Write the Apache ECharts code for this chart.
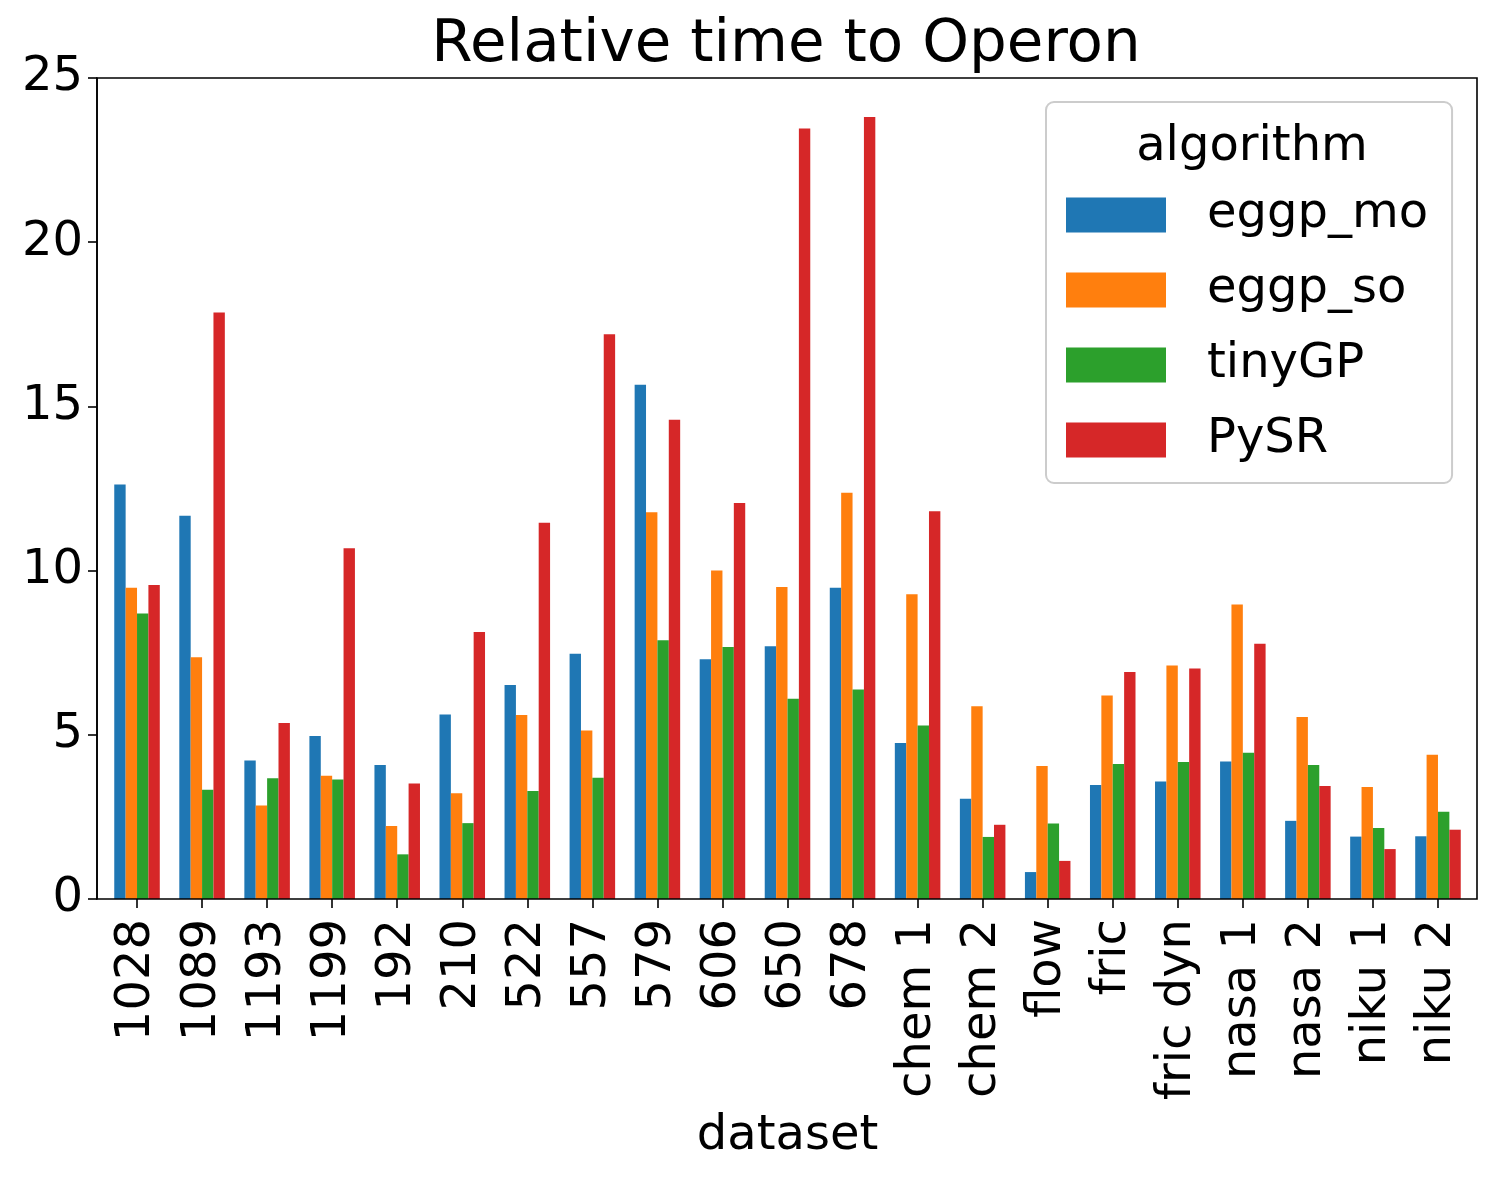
<!DOCTYPE html>
<html>
<head>
<meta charset="utf-8">
<title>Relative time to Operon</title>
<script src="https://cdn.jsdelivr.net/npm/echarts@6/dist/echarts.min.js"></script>
<style>
  html, body { margin: 0; padding: 0; background: #fff; }
  #chart { width: 1494px; height: 1179px; }
</style>
</head>
<body>
<div id="chart"></div>
<script>
// datasets on the x axis
const datasets = ['1028', '1089', '1193', '1199', '192', '210', '522', '557', '579', '606', '650', '678',
    'chem 1', 'chem 2', 'flow', 'fric', 'fric dyn', 'nasa 1', 'nasa 2', 'niku 1', 'niku 2'];

// relative time per algorithm
const eggpMo  = [12.62, 11.67, 4.22, 4.96, 4.08, 5.62, 6.52, 7.47, 15.66, 7.30, 7.70, 9.48,
    4.75, 3.05, 0.82, 3.47, 3.58, 4.19, 2.38, 1.90, 1.91];
const eggpSo  = [9.48, 7.36, 2.85, 3.75, 2.22, 3.22, 5.60, 5.13, 11.78, 10.00, 9.50, 12.37,
    9.28, 5.87, 4.05, 6.20, 7.11, 8.97, 5.54, 3.41, 4.39];
const tinyGP  = [8.69, 3.33, 3.68, 3.64, 1.36, 2.31, 3.29, 3.69, 7.88, 7.67, 6.10, 6.38,
    5.28, 1.89, 2.30, 4.11, 4.17, 4.45, 4.08, 2.16, 2.66];
const pySR    = [9.56, 17.86, 5.36, 10.68, 3.52, 8.13, 11.46, 17.20, 14.59, 12.06, 23.46, 23.81,
    11.81, 2.26, 1.16, 6.91, 7.02, 7.77, 3.44, 1.52, 2.11];

const seriesNames = ['eggp_mo', 'eggp_so', 'tinyGP', 'PySR'];
const seriesValues = [eggpMo, eggpSo, tinyGP, pySR];
const yTicks = [0, 5, 10, 15, 20, 25];

const COLORS = ['#1f77b4', '#ff7f0e', '#2ca02c', '#d62728'];
const FONT = 'DejaVu Sans';

const chart = echarts.init(document.getElementById('chart'));

const option = {
    animation: false,
    color: COLORS,
    textStyle: { fontFamily: FONT, color: '#000' },
    title: [
        {
            text: 'Relative time to Operon',
            left: 781,
            textAlign: 'center',
            top: 11,
            textStyle: { fontFamily: FONT, fontSize: 59.5, fontWeight: 'normal', color: '#000' }
        },
        {
            // legend title
            text: 'algorithm',
            left: 1247,
            textAlign: 'center',
            top: 119,
            textStyle: { fontFamily: FONT, fontSize: 48, fontWeight: 'normal', color: '#000' }
        }
    ],
    legend: {
        data: seriesNames,
        orient: 'vertical',
        left: 1046,
        top: 102,
        padding: [89, 24, 19, 20],
        itemWidth: 100,
        itemHeight: 35,
        itemGap: 27,
        icon: 'rect',
        backgroundColor: 'rgba(255,255,255,0.8)',
        borderColor: '#cccccc',
        borderWidth: 2,
        borderRadius: 8,
        textStyle: { fontFamily: FONT, fontSize: 48, color: '#000', padding: [0, 0, 0, 36] }
    },
    grid: {
        left: 104.5,
        right: 23.5,
        top: 78,
        bottom: 280,
        containLabel: false
    },
    graphic: [
        {
            // axes frame (all four spines)
            type: 'rect',
            z: 10,
            silent: true,
            shape: { x: 97, y: 78, width: 1380, height: 821 },
            style: { fill: 'none', stroke: '#000', lineWidth: 1.6 }
        }
    ],
    xAxis: {
        type: 'category',
        data: datasets,
        name: 'dataset',
        nameLocation: 'middle',
        nameGap: 214,
        nameTextStyle: { fontFamily: FONT, fontSize: 48, color: '#000' },
        axisLine: { show: false },
        axisTick: { show: true, alignWithLabel: true, length: 9, lineStyle: { color: '#000', width: 1.6 } },
        axisLabel: { rotate: 90, fontFamily: FONT, fontSize: 48, color: '#000', margin: 20, interval: 0 }
    },
    yAxis: {
        type: 'value',
        min: yTicks[0],
        max: yTicks[yTicks.length - 1],
        interval: yTicks[1] - yTicks[0],
        offset: 7.5,
        splitLine: { show: false },
        axisLine: { show: true, lineStyle: { color: '#000', width: 1.6 } },
        axisTick: { show: true, length: 9, lineStyle: { color: '#000', width: 1.6 } },
        axisLabel: { fontFamily: FONT, fontSize: 48, color: '#000', margin: 14 }
    },
    series: seriesNames.map((name, i) => ({
        name: name,
        type: 'bar',
        data: seriesValues[i],
        barGap: '0%',
        barCategoryGap: '30%',
        itemStyle: { color: COLORS[i] }
    }))
};

chart.setOption(option);
</script>
</body>
</html>
